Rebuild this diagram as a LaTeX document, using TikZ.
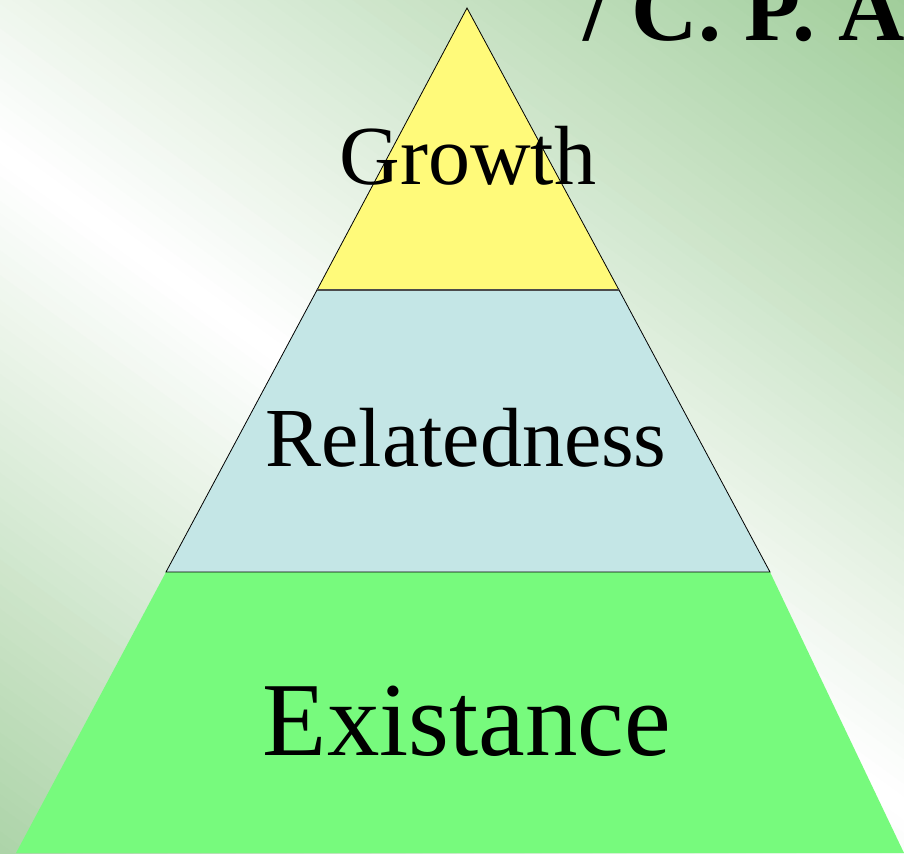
\documentclass[tikz,border=0pt]{standalone}
\usepackage{fontspec}
\setmainfont{Liberation Serif}
\usepackage{xcolor}
\definecolor{bggreen}{RGB}{158,204,152}
\definecolor{growthfill}{RGB}{255,250,122}
\definecolor{relfill}{RGB}{196,230,230}
\definecolor{existfill}{RGB}{119,250,125}
\tikzset{
  tier/.style      = {draw=black, line width=0.4pt},
  tierlabel/.style = {font=\fontsize{42}{46}\selectfont, inner sep=0pt, anchor=base},
  heading/.style   = {font=\bfseries\fontsize{46}{50}\selectfont, inner sep=0pt, anchor=base west}
}

\begin{document}
\begin{tikzpicture}[x=0.5pt, y=-0.5pt]
\useasboundingbox (0,0) rectangle (904,853);
% background: white band across the slide, green towards the corners
\begin{scope}
  \clip (0,0) rectangle (904,853);
  \begin{scope}[shift={(452,480)}, rotate=-36]
    \foreach \i in {0,...,69} {
      \pgfmathtruncatemacro{\pct}{min(100,\i*100/66)}
      \fill[bggreen!\pct!white] (-1100,\i*10) rectangle (1100,\i*10+11);
      \fill[bggreen!\pct!white] (-1100,-\i*10) rectangle (1100,-\i*10-11);
    }
  \end{scope}
\end{scope}
% pyramid corners
\coordinate (apex) at (467,8);
\coordinate (gl) at (317,290);  \coordinate (gr) at (619,290);
\coordinate (rl) at (166,572);  \coordinate (rr) at (770,572);
\coordinate (el) at (16,853);   \coordinate (er) at (904,853);
\fill[existfill] (rl) -- (rr) -- (er) -- (el) -- cycle;
\filldraw[tier, fill=relfill] (gl) -- (gr) -- (rr) -- (rl) -- cycle;
\draw[black!35!existfill, line width=0.5pt] (rl) -- (rr);
\filldraw[tier, fill=growthfill] (apex) -- (gr) -- (gl) -- cycle;
\draw[black!70, line width=0.8pt] (gl) -- (gr);
% labels
\node[tierlabel] (growth) at (468,184) {Growth};
\node[tierlabel] (relatedness) at (466,466) {Relatedness};
\node[tierlabel, font=\fontsize{52.5}{58}\selectfont] (existance) at (467,755) {Existance};
\node[heading] (author) at (583,40) {/ C. P. A};
\end{tikzpicture}
\end{document}
